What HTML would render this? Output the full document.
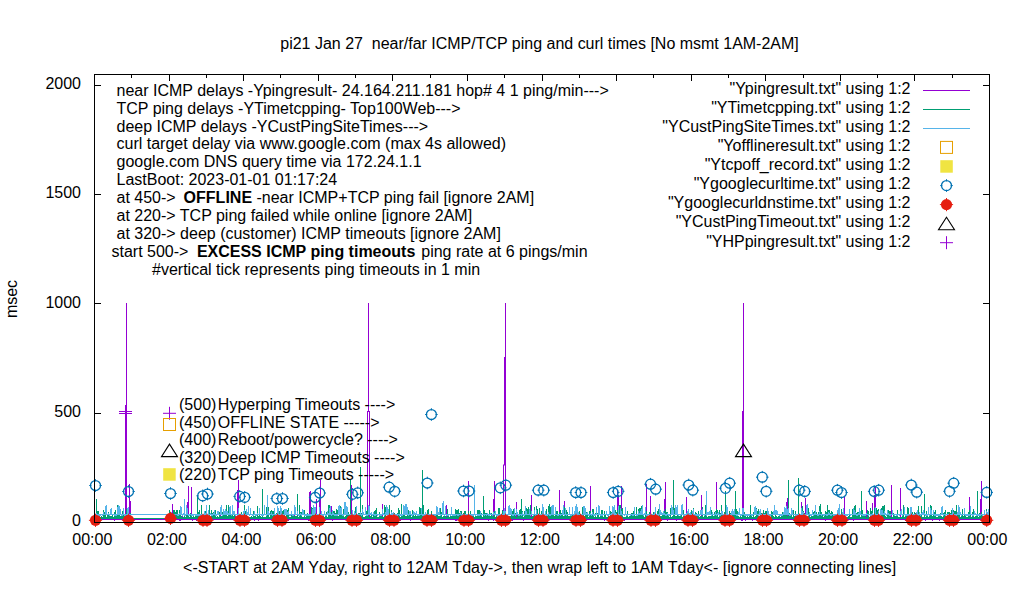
<!DOCTYPE html><html><head><meta charset="utf-8"><style>
html,body{margin:0;padding:0;background:#fff;overflow:hidden}svg{display:block}
text{font-family:"Liberation Sans",Arial,sans-serif;font-size:16px;fill:#000}
.b{font-weight:bold}
</style></head><body>
<svg width="1020" height="600" viewBox="0 0 1020 600">
<rect width="1020" height="600" fill="#fff"/>
<g stroke="#000" stroke-width="1" fill="none">
<path d="M95,413.5h6M989,413.5h-6"/>
<path d="M95,303.5h6M989,303.5h-6"/>
<path d="M95,194.5h6M989,194.5h-6"/>
<path d="M95,85.5h6M989,85.5h-6"/>
<path d="M94.5,522v-6M94.5,75v6"/>
<path d="M131.5,522v-3M131.5,75v3"/>
<path d="M169.5,522v-6M169.5,75v6"/>
<path d="M206.5,522v-3M206.5,75v3"/>
<path d="M243.5,522v-6M243.5,75v6"/>
<path d="M280.5,522v-3M280.5,75v3"/>
<path d="M318.5,522v-6M318.5,75v6"/>
<path d="M355.5,522v-3M355.5,75v3"/>
<path d="M392.5,522v-6M392.5,75v6"/>
<path d="M430.5,522v-3M430.5,75v3"/>
<path d="M467.5,522v-6M467.5,75v6"/>
<path d="M504.5,522v-3M504.5,75v3"/>
<path d="M542.5,522v-6M542.5,75v6"/>
<path d="M579.5,522v-3M579.5,75v3"/>
<path d="M616.5,522v-6M616.5,75v6"/>
<path d="M653.5,522v-3M653.5,75v3"/>
<path d="M691.5,522v-6M691.5,75v6"/>
<path d="M728.5,522v-3M728.5,75v3"/>
<path d="M765.5,522v-6M765.5,75v6"/>
<path d="M803.5,522v-3M803.5,75v3"/>
<path d="M840.5,522v-6M840.5,75v6"/>
<path d="M877.5,522v-3M877.5,75v3"/>
<path d="M914.5,522v-6M914.5,75v6"/>
<path d="M952.5,522v-3M952.5,75v3"/>
<path d="M989.5,522v-6M989.5,75v6"/>
</g>
<line x1="94.5" y1="519.5" x2="989.5" y2="519.5" stroke="#9400d3" stroke-width="1"/>
<path d="M95.5,519V520M96.5,519V520M97.5,519V520M98.5,519V520M99.5,519V520M100.5,519V520M101.5,519V520M102.5,519V520M103.5,519V520M104.5,519V520M105.5,519V520M106.5,519V520M107.5,519V520M108.5,519V520M109.5,519V520M110.5,519V520M111.5,519V520M112.5,519V520M113.5,519V520M114.5,519V521M115.5,519V520M116.5,519V520M117.5,519V520M118.5,519V520M119.5,519V520M120.5,519V520M121.5,519V520M122.5,519V520M123.5,519V521M124.5,519V520M125.5,519V520M126.5,519V520M127.5,519V520M128.5,519V520M129.5,519V520M130.5,519V520M169.5,519V520M170.5,519V520M171.5,516V520M172.5,519V520M173.5,519V520M174.5,519V520M175.5,519V520M176.5,519V520M177.5,519V520M178.5,519V520M179.5,519V521M180.5,519V521M181.5,519V520M182.5,515V520M183.5,519V520M184.5,519V520M185.5,519V520M186.5,519V520M187.5,519V520M188.5,519V520M189.5,519V520M190.5,519V520M191.5,519V520M192.5,519V521M193.5,519V520M194.5,519V520M195.5,519V520M196.5,519V521M197.5,519V520M198.5,515V520M199.5,519V520M200.5,519V520M201.5,519V520M202.5,519V520M203.5,519V520M204.5,519V520M205.5,519V520M206.5,519V520M207.5,519V520M208.5,519V520M209.5,519V520M210.5,519V520M211.5,519V520M212.5,519V520M213.5,519V520M214.5,519V520M215.5,519V520M216.5,519V520M217.5,519V520M218.5,519V520M219.5,519V520M220.5,519V520M221.5,519V520M222.5,519V520M223.5,519V520M224.5,519V520M225.5,519V520M226.5,519V520M227.5,519V520M228.5,519V520M229.5,519V520M230.5,519V520M231.5,519V520M232.5,519V520M233.5,519V520M234.5,519V520M235.5,514V520M236.5,519V520M237.5,519V520M238.5,519V520M239.5,519V520M240.5,519V520M241.5,519V520M242.5,519V520M243.5,519V521M244.5,519V520M245.5,519V520M246.5,519V520M247.5,519V520M248.5,519V520M249.5,517V520M250.5,519V520M251.5,519V520M252.5,519V520M253.5,519V520M254.5,519V521M255.5,517V520M256.5,519V520M257.5,519V520M258.5,519V521M259.5,519V520M260.5,519V520M261.5,519V520M262.5,519V520M263.5,519V520M264.5,519V520M265.5,519V520M266.5,518V520M267.5,519V520M268.5,519V520M269.5,519V520M270.5,519V520M271.5,519V520M272.5,519V521M273.5,519V520M274.5,519V520M275.5,519V520M276.5,519V520M277.5,519V520M278.5,519V520M279.5,519V520M280.5,519V520M281.5,519V520M282.5,519V520M283.5,519V520M284.5,519V520M285.5,519V520M286.5,519V520M287.5,518V520M288.5,519V521M289.5,519V520M290.5,519V520M291.5,519V520M292.5,519V520M293.5,519V520M294.5,515V520M295.5,519V520M296.5,519V520M297.5,519V520M298.5,519V520M299.5,519V520M300.5,519V520M301.5,518V520M302.5,519V520M303.5,519V520M304.5,519V520M305.5,519V520M306.5,519V520M307.5,519V520M308.5,519V521M309.5,519V520M310.5,519V520M311.5,519V520M312.5,519V520M313.5,519V520M314.5,519V520M315.5,519V521M316.5,519V520M317.5,519V520M318.5,519V520M319.5,519V520M320.5,519V520M321.5,519V520M322.5,519V520M323.5,519V520M324.5,519V520M325.5,519V520M326.5,519V520M327.5,519V520M328.5,519V520M329.5,519V520M330.5,519V520M331.5,519V520M332.5,519V521M333.5,519V520M334.5,519V520M335.5,519V520M336.5,509V520M337.5,519V520M338.5,519V520M339.5,519V520M340.5,519V520M341.5,519V520M342.5,519V520M343.5,519V520M344.5,519V520M345.5,519V520M346.5,519V520M347.5,519V520M348.5,519V520M349.5,519V520M350.5,519V521M351.5,519V520M352.5,519V520M353.5,518V520M354.5,519V520M355.5,519V520M356.5,519V520M357.5,519V520M358.5,519V520M359.5,519V520M360.5,519V520M361.5,519V520M362.5,519V520M363.5,519V520M364.5,519V520M365.5,519V520M366.5,519V520M367.5,519V520M368.5,519V520M369.5,519V520M370.5,519V520M371.5,519V520M372.5,519V520M373.5,519V520M374.5,519V520M375.5,519V520M376.5,519V520M377.5,519V520M378.5,519V520M379.5,519V520M380.5,519V520M381.5,519V520M382.5,504V520M383.5,519V520M384.5,519V520M385.5,519V520M386.5,519V520M387.5,519V520M388.5,519V520M389.5,519V520M390.5,519V520M391.5,518V520M392.5,519V520M393.5,519V520M394.5,519V520M395.5,519V520M396.5,519V520M397.5,519V520M398.5,519V520M399.5,519V520M400.5,519V521M401.5,519V520M402.5,519V520M403.5,519V520M404.5,519V520M405.5,519V520M406.5,519V520M407.5,519V520M408.5,519V520M409.5,519V520M410.5,519V521M411.5,519V520M412.5,519V520M413.5,519V520M414.5,519V520M415.5,519V520M416.5,519V520M417.5,519V520M418.5,519V520M419.5,519V520M420.5,519V520M421.5,519V520M422.5,519V520M423.5,519V520M424.5,519V520M425.5,519V520M426.5,517V520M427.5,519V520M428.5,519V521M429.5,519V520M430.5,519V520M431.5,519V520M432.5,519V520M433.5,519V520M434.5,519V520M435.5,519V520M436.5,519V520M437.5,519V520M438.5,519V520M439.5,519V520M440.5,519V520M441.5,519V520M442.5,519V520M443.5,519V520M444.5,517V520M445.5,519V520M446.5,519V520M447.5,519V520M448.5,519V520M449.5,519V520M450.5,519V520M451.5,519V520M452.5,519V520M453.5,519V520M454.5,519V520M455.5,519V521M456.5,519V521M457.5,517V520M458.5,519V520M459.5,519V520M460.5,519V520M461.5,519V520M462.5,519V520M463.5,519V520M464.5,519V520M465.5,519V520M466.5,519V520M467.5,519V520M468.5,519V520M469.5,519V520M470.5,519V520M471.5,519V520M472.5,519V520M473.5,519V520M474.5,519V520M475.5,519V520M476.5,519V520M477.5,519V520M478.5,519V520M479.5,519V520M480.5,519V520M481.5,519V520M482.5,519V520M483.5,519V520M484.5,519V520M485.5,519V520M486.5,519V520M487.5,519V520M488.5,519V521M489.5,519V520M490.5,519V520M491.5,519V520M492.5,519V520M493.5,519V521M494.5,519V520M495.5,519V520M496.5,519V520M497.5,519V520M498.5,519V520M499.5,519V520M500.5,519V520M501.5,519V520M502.5,517V520M503.5,519V520M504.5,519V520M505.5,519V520M506.5,519V520M507.5,519V521M508.5,519V520M509.5,519V520M510.5,519V520M511.5,519V520M512.5,519V521M513.5,519V520M514.5,519V520M515.5,519V520M516.5,502V520M517.5,519V520M518.5,519V520M519.5,519V520M520.5,519V520M521.5,519V520M522.5,519V520M523.5,519V521M524.5,519V520M525.5,519V520M526.5,519V520M527.5,519V520M528.5,519V520M529.5,519V520M530.5,519V520M531.5,519V520M532.5,519V520M533.5,519V520M534.5,519V520M535.5,519V520M536.5,519V520M537.5,519V520M538.5,519V520M539.5,519V520M540.5,519V520M541.5,519V520M542.5,519V520M543.5,519V520M544.5,519V521M545.5,519V520M546.5,519V520M547.5,519V520M548.5,519V520M549.5,519V520M550.5,519V520M551.5,519V520M552.5,519V520M553.5,519V520M554.5,519V520M555.5,519V520M556.5,519V520M557.5,519V520M558.5,519V520M559.5,519V520M560.5,519V520M561.5,519V520M562.5,519V520M563.5,519V520M564.5,519V520M565.5,519V520M566.5,519V520M567.5,519V520M568.5,519V520M569.5,519V520M570.5,519V520M571.5,519V520M572.5,519V520M573.5,519V520M574.5,519V520M575.5,515V520M576.5,519V520M577.5,519V520M578.5,519V520M579.5,519V520M580.5,519V520M581.5,519V520M582.5,518V520M583.5,519V520M584.5,519V520M585.5,519V520M586.5,519V520M587.5,519V520M588.5,519V520M589.5,519V520M590.5,519V520M591.5,519V520M592.5,518V520M593.5,519V520M594.5,519V520M595.5,519V520M596.5,519V520M597.5,519V520M598.5,519V520M599.5,519V520M600.5,519V520M601.5,519V520M602.5,519V520M603.5,519V520M604.5,519V521M605.5,519V520M606.5,517V520M607.5,519V520M608.5,519V520M609.5,519V521M610.5,519V521M611.5,519V520M612.5,519V520M613.5,519V520M614.5,519V520M615.5,519V521M616.5,519V520M617.5,519V521M618.5,519V520M619.5,519V520M620.5,519V521M621.5,519V520M622.5,519V520M623.5,519V520M624.5,519V521M625.5,519V520M626.5,519V520M627.5,519V520M628.5,519V520M629.5,519V520M630.5,519V520M631.5,519V520M632.5,519V520M633.5,519V520M634.5,519V520M635.5,519V520M636.5,519V520M637.5,519V520M638.5,519V520M639.5,519V520M640.5,519V520M641.5,519V520M642.5,519V520M643.5,519V520M644.5,519V520M645.5,519V520M646.5,519V520M647.5,519V520M648.5,519V520M649.5,519V520M650.5,519V520M651.5,519V520M652.5,519V520M653.5,519V520M654.5,519V520M655.5,519V520M656.5,519V520M657.5,519V520M658.5,519V520M659.5,519V520M660.5,516V520M661.5,519V521M662.5,519V520M663.5,519V520M664.5,519V520M665.5,519V520M666.5,519V520M667.5,519V521M668.5,519V520M669.5,519V520M670.5,519V520M671.5,519V520M672.5,519V520M673.5,519V520M674.5,519V520M675.5,519V520M676.5,519V521M677.5,519V520M678.5,519V520M679.5,519V520M680.5,516V520M681.5,519V520M682.5,519V520M683.5,519V520M684.5,519V520M685.5,519V520M686.5,519V520M687.5,519V520M688.5,510V520M689.5,519V520M690.5,519V520M691.5,519V520M692.5,519V521M693.5,519V520M694.5,519V520M695.5,519V520M696.5,519V520M697.5,519V520M698.5,519V520M699.5,519V520M700.5,519V520M701.5,519V520M702.5,519V520M703.5,519V520M704.5,519V520M705.5,519V520M706.5,519V520M707.5,519V520M708.5,519V520M709.5,519V520M710.5,519V520M711.5,519V520M712.5,519V520M713.5,519V520M714.5,519V520M715.5,519V520M716.5,519V520M717.5,519V520M718.5,519V520M719.5,519V520M720.5,519V520M721.5,519V520M722.5,519V520M723.5,519V520M724.5,519V520M725.5,519V520M726.5,519V520M727.5,519V520M728.5,519V520M729.5,519V520M730.5,519V520M731.5,519V520M732.5,519V520M733.5,519V520M734.5,519V520M735.5,519V520M736.5,519V520M737.5,519V520M738.5,519V520M739.5,519V520M740.5,519V520M741.5,519V521M742.5,519V521M743.5,517V520M744.5,519V520M745.5,519V521M746.5,519V520M747.5,519V520M748.5,519V520M749.5,519V520M750.5,519V520M751.5,519V520M752.5,519V521M753.5,519V520M754.5,519V520M755.5,519V520M756.5,519V520M757.5,519V520M758.5,519V520M759.5,519V520M760.5,519V520M761.5,519V520M762.5,519V520M763.5,519V521M764.5,519V521M765.5,519V520M766.5,519V520M767.5,519V520M768.5,519V520M769.5,519V520M770.5,519V520M771.5,519V520M772.5,519V520M773.5,519V520M774.5,517V520M775.5,519V520M776.5,519V520M777.5,519V520M778.5,519V520M779.5,519V520M780.5,519V520M781.5,519V520M782.5,519V520M783.5,519V520M784.5,519V520M785.5,519V520M786.5,502V520M787.5,519V520M788.5,519V520M789.5,519V520M790.5,519V520M791.5,519V520M792.5,519V520M793.5,519V520M794.5,519V520M795.5,519V520M796.5,519V520M797.5,519V520M798.5,519V521M799.5,519V520M800.5,519V520M801.5,519V520M802.5,516V520M803.5,519V520M804.5,519V520M805.5,519V520M806.5,519V520M807.5,519V521M808.5,519V520M809.5,519V520M810.5,519V520M811.5,519V520M812.5,519V520M813.5,519V520M814.5,519V520M815.5,519V520M816.5,519V520M817.5,519V520M818.5,519V520M819.5,519V520M820.5,519V520M821.5,519V520M822.5,519V520M823.5,519V520M824.5,519V520M825.5,519V521M826.5,519V520M827.5,519V520M828.5,519V520M829.5,519V520M830.5,519V520M831.5,519V520M832.5,519V520M833.5,519V520M834.5,519V520M835.5,519V520M836.5,519V520M837.5,519V520M838.5,519V520M839.5,519V520M840.5,519V520M841.5,519V520M842.5,519V520M843.5,519V520M844.5,519V521M845.5,519V520M846.5,519V520M847.5,519V520M848.5,519V520M849.5,519V520M850.5,519V520M851.5,519V520M852.5,519V520M853.5,519V521M854.5,519V520M855.5,519V520M856.5,519V520M857.5,519V520M858.5,519V520M859.5,519V520M860.5,519V520M861.5,519V520M862.5,519V520M863.5,519V520M864.5,519V520M865.5,519V520M866.5,519V520M867.5,519V520M868.5,519V520M869.5,519V520M870.5,519V520M871.5,519V520M872.5,519V520M873.5,516V520M874.5,519V520M875.5,519V520M876.5,519V520M877.5,519V520M878.5,519V520M879.5,519V520M880.5,519V520M881.5,517V520M882.5,516V520M883.5,515V520M884.5,519V520M885.5,519V520M886.5,519V520M887.5,519V520M888.5,519V520M889.5,519V520M890.5,519V520M891.5,519V520M892.5,519V520M893.5,519V520M894.5,519V520M895.5,519V520M896.5,519V520M897.5,519V520M898.5,519V520M899.5,519V520M900.5,519V520M901.5,519V520M902.5,519V520M903.5,519V520M904.5,519V520M905.5,519V521M906.5,519V521M907.5,519V520M908.5,519V520M909.5,519V520M910.5,519V520M911.5,519V520M912.5,519V520M913.5,519V520M914.5,519V520M915.5,519V520M916.5,519V520M917.5,519V520M918.5,519V520M919.5,519V520M920.5,519V520M921.5,519V520M922.5,519V520M923.5,519V520M924.5,519V520M925.5,519V521M926.5,519V520M927.5,519V520M928.5,519V520M929.5,519V520M930.5,519V520M931.5,519V520M932.5,519V521M933.5,519V520M934.5,519V520M935.5,516V520M936.5,519V520M937.5,519V520M938.5,519V520M939.5,519V521M940.5,515V520M941.5,519V520M942.5,519V520M943.5,519V520M944.5,519V520M945.5,519V520M946.5,519V520M947.5,519V520M948.5,519V520M949.5,519V520M950.5,519V520M951.5,519V520M952.5,519V520M953.5,519V521M954.5,519V520M955.5,519V520M956.5,519V520M957.5,519V520M958.5,519V520M959.5,519V520M960.5,519V520M961.5,519V520M962.5,519V520M963.5,519V520M964.5,519V520M965.5,519V520M966.5,519V520M967.5,519V520M968.5,519V520M969.5,519V520M970.5,519V520M971.5,519V520M972.5,519V520M973.5,519V520M974.5,519V520M975.5,519V520M976.5,519V520M977.5,519V520M978.5,519V520M979.5,519V520M980.5,519V520M981.5,519V520M982.5,519V520M983.5,519V521M984.5,519V520M985.5,519V520M986.5,518V520M987.5,519V520M988.5,519V520" fill="none" stroke="#9400d3" stroke-width="1"/>
<path d="M505.5,303V519M504.5,357V465M503.5,465V519M503,465H505" stroke="#9400d3" stroke-width="1" fill="none"/>
<line x1="126.5" y1="303.0" x2="126.5" y2="519" stroke="#9400d3" stroke-width="1"/>
<line x1="126.0" y1="405.0" x2="126.0" y2="519" stroke="#9400d3" stroke-width="2"/>
<line x1="743.5" y1="303.0" x2="743.5" y2="519" stroke="#9400d3" stroke-width="1"/>
<line x1="743.0" y1="411.0" x2="743.0" y2="519" stroke="#9400d3" stroke-width="2"/>
<path d="M368.5,303V412M367.5,411.5V519M369.5,411.5V519M367,411.5H370" stroke="#9400d3" stroke-width="1" fill="none"/>
<path d="M96.5,508V519M129.5,484V519M130.5,501V519M172.5,504V519M187.5,502V519M188.5,486V519M191.5,487V519M220.5,507V519M238.5,480V519M237.5,490V519M309.5,492V519M310.5,491V519M316.5,499V519M320.5,480V519M319.5,500V519M331.5,506V519M351.5,485V519M446.5,505V519M468.5,481V519M494.5,481V519M493.5,499V519M531.5,495V519M530.5,507V519M559.5,490V519M564.5,501V519M590.5,486V519M617.5,490V519M618.5,495V519M621.5,486V519M646.5,484V519M650.5,496V519M665.5,482V519M664.5,499V519M686.5,497V519M701.5,495V519M716.5,482V519M787.5,498V519M801.5,502V519M805.5,498V519M844.5,497V519M866.5,501V519M872.5,503V519M875.5,487V519M874.5,495V519M891.5,485V519M900.5,488V519M969.5,497V519M980.5,499V519M981.5,481V519" stroke="#9400d3" stroke-width="1"/>
<line x1="94.5" y1="518.5" x2="989.5" y2="518.5" stroke="#009e73" stroke-width="1"/>
<path d="M95.5,516V518M96.5,499V518M97.5,511V518M98.5,511V518M99.5,514V518M100.5,517V518M101.5,516V518M102.5,517V518M103.5,510V518M104.5,512V518M105.5,511V518M106.5,517V518M107.5,514V518M108.5,512V518M109.5,516V518M110.5,516V518M111.5,516V518M112.5,514V518M113.5,517V518M114.5,512V518M115.5,510V518M116.5,514V518M117.5,505V518M118.5,509V518M119.5,510V518M120.5,516V518M121.5,514V518M122.5,511V518M123.5,510V518M124.5,516V518M125.5,516V518M126.5,509V518M127.5,510V518M128.5,512V518M129.5,516V518M130.5,513V518M169.5,510V518M170.5,513V518M171.5,513V518M172.5,516V518M173.5,510V518M174.5,510V518M175.5,512V518M176.5,510V518M177.5,510V518M178.5,516V518M179.5,510V518M180.5,512V518M181.5,516V518M182.5,517V518M183.5,517V518M184.5,510V518M185.5,517V518M186.5,513V518M187.5,513V518M188.5,514V518M189.5,517V518M190.5,513V518M191.5,516V518M192.5,517V518M193.5,516V518M194.5,517V518M195.5,516V518M196.5,514V518M197.5,512V518M198.5,512V518M199.5,510V518M200.5,517V518M201.5,505V518M202.5,516V518M203.5,516V518M204.5,516V518M205.5,511V518M206.5,516V518M207.5,514V518M208.5,516V518M209.5,505V518M210.5,517V518M211.5,510V518M212.5,513V518M213.5,512V518M214.5,515V518M215.5,510V518M216.5,517V518M217.5,516V518M218.5,517V518M219.5,512V518M220.5,516V518M221.5,516V518M222.5,512V518M223.5,514V518M224.5,512V518M225.5,513V518M226.5,505V518M227.5,516V518M228.5,505V518M229.5,512V518M230.5,506V518M231.5,516V518M232.5,512V518M233.5,516V518M234.5,514V518M235.5,517V518M236.5,517V518M237.5,516V518M238.5,516V518M239.5,514V518M240.5,517V518M241.5,512V518M242.5,517V518M243.5,517V518M244.5,505V518M245.5,511V518M246.5,514V518M247.5,517V518M248.5,517V518M249.5,517V518M250.5,517V518M251.5,516V518M252.5,517V518M253.5,511V518M254.5,516V518M255.5,514V518M256.5,517V518M257.5,506V518M258.5,516V518M259.5,514V518M260.5,516V518M261.5,517V518M262.5,517V518M263.5,517V518M264.5,517V518M265.5,517V518M266.5,507V518M267.5,509V518M268.5,507V518M269.5,517V518M270.5,511V518M271.5,510V518M272.5,511V518M273.5,511V518M274.5,511V518M275.5,517V518M276.5,513V518M277.5,516V518M278.5,511V518M279.5,511V518M280.5,510V518M281.5,513V518M282.5,511V518M283.5,510V518M284.5,514V518M285.5,517V518M286.5,510V518M287.5,510V518M288.5,508V518M289.5,517V518M290.5,517V518M291.5,512V518M292.5,514V518M293.5,516V518M294.5,516V518M295.5,516V518M296.5,516V518M297.5,507V518M298.5,517V518M299.5,505V518M300.5,512V518M301.5,512V518M302.5,517V518M303.5,517V518M304.5,510V518M305.5,517V518M306.5,514V518M307.5,513V518M308.5,515V518M309.5,516V518M310.5,514V518M311.5,507V518M312.5,508V518M313.5,510V518M314.5,508V518M315.5,516V518M316.5,517V518M317.5,514V518M318.5,517V518M319.5,517V518M320.5,517V518M321.5,517V518M322.5,516V518M323.5,514V518M324.5,517V518M325.5,516V518M326.5,512V518M327.5,517V518M328.5,505V518M329.5,505V518M330.5,510V518M331.5,512V518M332.5,513V518M333.5,511V518M334.5,511V518M335.5,513V518M336.5,509V518M337.5,510V518M338.5,516V518M339.5,506V518M340.5,506V518M341.5,514V518M342.5,516V518M343.5,509V518M344.5,517V518M345.5,516V518M346.5,511V518M347.5,511V518M348.5,512V518M349.5,515V518M350.5,511V518M351.5,516V518M352.5,516V518M353.5,517V518M354.5,516V518M355.5,507V518M356.5,506V518M357.5,516V518M358.5,513V518M359.5,513V518M360.5,512V518M361.5,513V518M362.5,505V518M363.5,517V518M364.5,517V518M365.5,516V518M366.5,511V518M367.5,510V518M368.5,509V518M369.5,517V518M370.5,516V518M371.5,513V518M372.5,517V518M373.5,514V518M374.5,511V518M375.5,510V518M376.5,508V518M377.5,517V518M378.5,517V518M379.5,512V518M380.5,516V518M381.5,516V518M382.5,516V518M383.5,517V518M384.5,505V518M385.5,507V518M386.5,517V518M387.5,517V518M388.5,517V518M389.5,508V518M390.5,514V518M391.5,510V518M392.5,517V518M393.5,516V518M394.5,513V518M395.5,517V518M396.5,516V518M397.5,513V518M398.5,508V518M399.5,510V518M400.5,517V518M401.5,504V518M402.5,516V518M403.5,512V518M404.5,510V518M405.5,516V518M406.5,516V518M407.5,510V518M408.5,510V518M409.5,513V518M410.5,515V518M411.5,517V518M412.5,510V518M413.5,513V518M414.5,516V518M415.5,513V518M416.5,516V518M417.5,516V518M418.5,516V518M419.5,507V518M420.5,508V518M421.5,514V518M422.5,517V518M423.5,505V518M424.5,516V518M425.5,516V518M426.5,517V518M427.5,510V518M428.5,509V518M429.5,516V518M430.5,516V518M431.5,511V518M432.5,514V518M433.5,514V518M434.5,516V518M435.5,516V518M436.5,511V518M437.5,512V518M438.5,516V518M439.5,516V518M440.5,508V518M441.5,512V518M442.5,517V518M443.5,516V518M444.5,516V518M445.5,516V518M446.5,517V518M447.5,509V518M448.5,516V518M449.5,517V518M450.5,516V518M451.5,516V518M452.5,516V518M453.5,516V518M454.5,516V518M455.5,509V518M456.5,510V518M457.5,510V518M458.5,509V518M459.5,513V518M460.5,511V518M461.5,511V518M462.5,516V518M463.5,513V518M464.5,511V518M465.5,511V518M466.5,516V518M467.5,514V518M468.5,511V518M469.5,517V518M470.5,511V518M471.5,517V518M472.5,516V518M473.5,516V518M474.5,517V518M475.5,514V518M476.5,516V518M477.5,510V518M478.5,510V518M479.5,510V518M480.5,512V518M481.5,513V518M482.5,517V518M483.5,516V518M484.5,510V518M485.5,513V518M486.5,513V518M487.5,515V518M488.5,516V518M489.5,510V518M490.5,516V518M491.5,513V518M492.5,516V518M493.5,516V518M494.5,511V518M495.5,517V518M496.5,516V518M497.5,517V518M498.5,508V518M499.5,508V518M500.5,517V518M501.5,516V518M502.5,510V518M503.5,517V518M504.5,517V518M505.5,517V518M506.5,517V518M507.5,517V518M508.5,517V518M509.5,516V518M510.5,516V518M511.5,510V518M512.5,511V518M513.5,509V518M514.5,510V518M515.5,513V518M516.5,517V518M517.5,514V518M518.5,516V518M519.5,510V518M520.5,509V518M521.5,499V518M522.5,511V518M523.5,517V518M524.5,511V518M525.5,514V518M526.5,508V518M527.5,509V518M528.5,507V518M529.5,510V518M530.5,505V518M531.5,517V518M532.5,516V518M533.5,516V518M534.5,507V518M535.5,517V518M536.5,506V518M537.5,509V518M538.5,516V518M539.5,508V518M540.5,516V518M541.5,511V518M542.5,517V518M543.5,517V518M544.5,517V518M545.5,517V518M546.5,509V518M547.5,516V518M548.5,506V518M549.5,504V518M550.5,507V518M551.5,506V518M552.5,508V518M553.5,511V518M554.5,516V518M555.5,510V518M556.5,511V518M557.5,511V518M558.5,514V518M559.5,512V518M560.5,510V518M561.5,513V518M562.5,512V518M563.5,516V518M564.5,507V518M565.5,508V518M566.5,510V518M567.5,512V518M568.5,516V518M569.5,516V518M570.5,516V518M571.5,516V518M572.5,514V518M573.5,516V518M574.5,516V518M575.5,517V518M576.5,510V518M577.5,517V518M578.5,512V518M579.5,511V518M580.5,514V518M581.5,517V518M582.5,507V518M583.5,512V518M584.5,516V518M585.5,510V518M586.5,512V518M587.5,512V518M588.5,517V518M589.5,511V518M590.5,511V518M591.5,514V518M592.5,509V518M593.5,509V518M594.5,517V518M595.5,513V518M596.5,517V518M597.5,513V518M598.5,514V518M599.5,517V518M600.5,516V518M601.5,510V518M602.5,510V518M603.5,517V518M604.5,511V518M605.5,514V518M606.5,517V518M607.5,517V518M608.5,516V518M609.5,517V518M610.5,511V518M611.5,512V518M612.5,515V518M613.5,517V518M614.5,517V518M615.5,510V518M616.5,512V518M617.5,510V518M618.5,514V518M619.5,505V518M620.5,505V518M621.5,509V518M622.5,508V518M623.5,517V518M624.5,517V518M625.5,517V518M626.5,516V518M627.5,511V518M628.5,517V518M629.5,516V518M630.5,516V518M631.5,513V518M632.5,513V518M633.5,511V518M634.5,514V518M635.5,516V518M636.5,507V518M637.5,514V518M638.5,509V518M639.5,508V518M640.5,508V518M641.5,506V518M642.5,511V518M643.5,516V518M644.5,517V518M645.5,510V518M646.5,511V518M647.5,514V518M648.5,517V518M649.5,512V518M650.5,517V518M651.5,517V518M652.5,516V518M653.5,512V518M654.5,512V518M655.5,517V518M656.5,517V518M657.5,511V518M658.5,509V518M659.5,510V518M660.5,516V518M661.5,516V518M662.5,514V518M663.5,514V518M664.5,511V518M665.5,509V518M666.5,512V518M667.5,512V518M668.5,516V518M669.5,517V518M670.5,508V518M671.5,517V518M672.5,516V518M673.5,517V518M674.5,508V518M675.5,516V518M676.5,516V518M677.5,513V518M678.5,514V518M679.5,516V518M680.5,516V518M681.5,513V518M682.5,517V518M683.5,510V518M684.5,516V518M685.5,516V518M686.5,517V518M687.5,517V518M688.5,514V518M689.5,513V518M690.5,515V518M691.5,510V518M692.5,517V518M693.5,508V518M694.5,517V518M695.5,512V518M696.5,513V518M697.5,516V518M698.5,511V518M699.5,517V518M700.5,516V518M701.5,516V518M702.5,507V518M703.5,517V518M704.5,516V518M705.5,505V518M706.5,513V518M707.5,517V518M708.5,516V518M709.5,516V518M710.5,516V518M711.5,510V518M712.5,514V518M713.5,516V518M714.5,512V518M715.5,511V518M716.5,509V518M717.5,510V518M718.5,517V518M719.5,510V518M720.5,513V518M721.5,505V518M722.5,511V518M723.5,516V518M724.5,512V518M725.5,506V518M726.5,516V518M727.5,514V518M728.5,517V518M729.5,511V518M730.5,513V518M731.5,517V518M732.5,512V518M733.5,512V518M734.5,512V518M735.5,510V518M736.5,509V518M737.5,511V518M738.5,516V518M739.5,517V518M740.5,514V518M741.5,517V518M742.5,512V518M743.5,511V518M744.5,512V518M745.5,514V518M746.5,517V518M747.5,516V518M748.5,517V518M749.5,516V518M750.5,505V518M751.5,514V518M752.5,517V518M753.5,512V518M754.5,517V518M755.5,516V518M756.5,508V518M757.5,511V518M758.5,509V518M759.5,516V518M760.5,512V518M761.5,513V518M762.5,514V518M763.5,510V518M764.5,513V518M765.5,511V518M766.5,511V518M767.5,517V518M768.5,516V518M769.5,516V518M770.5,517V518M771.5,511V518M772.5,512V518M773.5,516V518M774.5,517V518M775.5,511V518M776.5,516V518M777.5,517V518M778.5,516V518M779.5,514V518M780.5,517V518M781.5,514V518M782.5,512V518M783.5,513V518M784.5,513V518M785.5,509V518M786.5,507V518M787.5,516V518M788.5,512V518M789.5,513V518M790.5,515V518M791.5,511V518M792.5,517V518M793.5,510V518M794.5,516V518M795.5,511V518M796.5,516V518M797.5,516V518M798.5,516V518M799.5,514V518M800.5,516V518M801.5,516V518M802.5,506V518M803.5,511V518M804.5,513V518M805.5,517V518M806.5,517V518M807.5,517V518M808.5,508V518M809.5,512V518M810.5,517V518M811.5,516V518M812.5,516V518M813.5,512V518M814.5,511V518M815.5,514V518M816.5,512V518M817.5,515V518M818.5,512V518M819.5,506V518M820.5,504V518M821.5,512V518M822.5,515V518M823.5,517V518M824.5,516V518M825.5,511V518M826.5,512V518M827.5,505V518M828.5,510V518M829.5,510V518M830.5,513V518M831.5,511V518M832.5,512V518M833.5,516V518M834.5,516V518M835.5,516V518M836.5,517V518M837.5,510V518M838.5,517V518M839.5,516V518M840.5,516V518M841.5,509V518M842.5,512V518M843.5,516V518M844.5,517V518M845.5,517V518M846.5,517V518M847.5,517V518M848.5,516V518M849.5,510V518M850.5,517V518M851.5,517V518M852.5,509V518M853.5,510V518M854.5,506V518M855.5,505V518M856.5,513V518M857.5,512V518M858.5,512V518M859.5,512V518M860.5,517V518M861.5,516V518M862.5,510V518M863.5,514V518M864.5,516V518M865.5,514V518M866.5,517V518M867.5,510V518M868.5,511V518M869.5,517V518M870.5,508V518M871.5,511V518M872.5,510V518M873.5,517V518M874.5,508V518M875.5,509V518M876.5,508V518M877.5,510V518M878.5,509V518M879.5,517V518M880.5,516V518M881.5,508V518M882.5,506V518M883.5,506V518M884.5,505V518M885.5,516V518M886.5,517V518M887.5,510V518M888.5,510V518M889.5,511V518M890.5,511V518M891.5,517V518M892.5,517V518M893.5,513V518M894.5,515V518M895.5,516V518M896.5,516V518M897.5,510V518M898.5,517V518M899.5,517V518M900.5,517V518M901.5,517V518M902.5,516V518M903.5,505V518M904.5,517V518M905.5,514V518M906.5,516V518M907.5,507V518M908.5,508V518M909.5,517V518M910.5,516V518M911.5,517V518M912.5,512V518M913.5,517V518M914.5,512V518M915.5,513V518M916.5,513V518M917.5,511V518M918.5,506V518M919.5,513V518M920.5,515V518M921.5,506V518M922.5,517V518M923.5,517V518M924.5,516V518M925.5,517V518M926.5,511V518M927.5,516V518M928.5,517V518M929.5,516V518M930.5,505V518M931.5,506V518M932.5,516V518M933.5,510V518M934.5,512V518M935.5,510V518M936.5,517V518M937.5,517V518M938.5,516V518M939.5,516V518M940.5,513V518M941.5,516V518M942.5,517V518M943.5,513V518M944.5,512V518M945.5,510V518M946.5,516V518M947.5,512V518M948.5,512V518M949.5,512V518M950.5,513V518M951.5,510V518M952.5,516V518M953.5,510V518M954.5,511V518M955.5,511V518M956.5,505V518M957.5,513V518M958.5,511V518M959.5,514V518M960.5,517V518M961.5,516V518M962.5,509V518M963.5,516V518M964.5,510V518M965.5,516V518M966.5,517V518M967.5,517V518M968.5,512V518M969.5,510V518M970.5,510V518M971.5,517V518M972.5,512V518M973.5,509V518M974.5,517V518M975.5,516V518M976.5,516V518M977.5,517V518M978.5,517V518M979.5,513V518M980.5,515V518M981.5,512V518M982.5,514V518M983.5,517V518M984.5,517V518M985.5,517V518M986.5,509V518M987.5,516V518M988.5,511V518" fill="none" stroke="#009e73" stroke-width="1"/>
<path d="M197.5,495V517M262.5,489V517M297.5,494V517M350.5,480V517M360.5,467V517M389.5,505V517M422.5,470V517M483.5,496V517M673.5,480V517M725.5,491V517M735.5,491V517M788.5,480V517M798.5,478V517M861.5,491V517M924.5,494V517M977.5,491V517" stroke="#009e73" stroke-width="1"/>
<line x1="94.5" y1="514.5" x2="989.5" y2="514.5" stroke="#56b4e9" stroke-width="1"/>
<path d="M95.5,514V515M96.5,513V515M97.5,514V516M98.5,514V516M99.5,514V516M100.5,514V516M101.5,514V515M102.5,514V516M103.5,512V515M104.5,514V515M105.5,506V515M106.5,505V515M107.5,514V515M108.5,513V515M109.5,514V516M110.5,509V515M111.5,508V515M112.5,514V515M113.5,514V515M114.5,514V516M115.5,514V516M116.5,514V516M117.5,507V515M118.5,505V515M119.5,506V515M120.5,509V515M121.5,514V516M122.5,514V516M123.5,508V515M124.5,514V516M125.5,514V516M126.5,514V515M127.5,508V515M128.5,507V515M129.5,514V516M130.5,514V516M169.5,514V516M170.5,514V516M171.5,512V515M172.5,514V516M173.5,514V516M174.5,514V516M175.5,514V515M176.5,514V515M177.5,514V516M178.5,514V516M179.5,513V515M180.5,506V515M181.5,507V515M182.5,514V516M183.5,513V515M184.5,514V516M185.5,514V516M186.5,505V515M187.5,508V515M188.5,514V516M189.5,514V516M190.5,514V515M191.5,514V516M192.5,514V516M193.5,514V516M194.5,514V515M195.5,514V516M196.5,514V516M197.5,514V516M198.5,514V516M199.5,514V516M200.5,514V516M201.5,514V516M202.5,514V516M203.5,514V515M204.5,511V515M205.5,513V515M206.5,505V515M207.5,514V516M208.5,510V515M209.5,514V515M210.5,513V515M211.5,514V516M212.5,514V516M213.5,513V515M214.5,510V515M215.5,514V516M216.5,514V516M217.5,511V515M218.5,511V515M219.5,514V515M220.5,507V515M221.5,505V515M222.5,514V516M223.5,509V515M224.5,511V515M225.5,509V515M226.5,511V515M227.5,511V515M228.5,513V515M229.5,507V515M230.5,506V515M231.5,514V516M232.5,505V515M233.5,511V515M234.5,511V515M235.5,514V516M236.5,514V515M237.5,514V516M238.5,508V515M239.5,514V516M240.5,514V516M241.5,514V516M242.5,514V516M243.5,511V515M244.5,510V515M245.5,514V516M246.5,509V515M247.5,512V515M248.5,506V515M249.5,514V516M250.5,508V515M251.5,514V515M252.5,514V516M253.5,514V516M254.5,511V515M255.5,514V516M256.5,514V516M257.5,513V515M258.5,514V515M259.5,508V515M260.5,514V515M261.5,514V516M262.5,514V516M263.5,514V516M264.5,505V515M265.5,514V515M266.5,514V516M267.5,508V515M268.5,511V515M269.5,513V515M270.5,514V515M271.5,512V515M272.5,514V516M273.5,514V515M274.5,508V515M275.5,514V516M276.5,514V516M277.5,506V515M278.5,508V515M279.5,514V515M280.5,506V515M281.5,508V515M282.5,514V516M283.5,514V516M284.5,509V515M285.5,509V515M286.5,509V515M287.5,512V515M288.5,511V515M289.5,514V516M290.5,514V516M291.5,511V515M292.5,514V516M293.5,514V516M294.5,505V515M295.5,507V515M296.5,514V515M297.5,511V515M298.5,514V516M299.5,514V516M300.5,513V515M301.5,514V516M302.5,509V515M303.5,510V515M304.5,514V516M305.5,514V516M306.5,514V516M307.5,514V516M308.5,514V516M309.5,514V516M310.5,514V516M311.5,514V516M312.5,509V515M313.5,505V515M314.5,507V515M315.5,507V515M316.5,514V516M317.5,514V515M318.5,514V516M319.5,507V515M320.5,514V516M321.5,511V515M322.5,514V516M323.5,514V516M324.5,511V515M325.5,514V516M326.5,514V516M327.5,511V515M328.5,513V515M329.5,508V515M330.5,506V515M331.5,514V516M332.5,510V515M333.5,513V515M334.5,514V516M335.5,514V516M336.5,514V516M337.5,514V516M338.5,506V515M339.5,505V515M340.5,508V515M341.5,507V515M342.5,514V516M343.5,514V516M344.5,502V515M345.5,502V515M346.5,506V515M347.5,507V515M348.5,514V515M349.5,514V515M350.5,514V516M351.5,514V516M352.5,510V515M353.5,514V516M354.5,511V515M355.5,513V515M356.5,506V515M357.5,514V516M358.5,514V515M359.5,514V515M360.5,512V515M361.5,514V516M362.5,509V515M363.5,512V515M364.5,514V515M365.5,507V515M366.5,514V516M367.5,514V516M368.5,505V515M369.5,506V515M370.5,513V515M371.5,512V515M372.5,514V516M373.5,512V515M374.5,514V516M375.5,514V516M376.5,514V515M377.5,514V516M378.5,514V515M379.5,514V516M380.5,514V516M381.5,514V516M382.5,509V515M383.5,513V515M384.5,514V516M385.5,512V515M386.5,505V515M387.5,507V515M388.5,509V515M389.5,514V516M390.5,514V516M391.5,512V515M392.5,513V515M393.5,512V515M394.5,514V515M395.5,514V515M396.5,514V516M397.5,514V516M398.5,514V515M399.5,514V516M400.5,514V516M401.5,514V516M402.5,514V516M403.5,505V515M404.5,506V515M405.5,504V515M406.5,504V515M407.5,507V515M408.5,514V516M409.5,511V515M410.5,511V515M411.5,514V516M412.5,514V516M413.5,511V515M414.5,512V515M415.5,513V515M416.5,511V515M417.5,514V516M418.5,514V516M419.5,514V516M420.5,514V515M421.5,508V515M422.5,514V516M423.5,514V516M424.5,514V516M425.5,512V515M426.5,514V515M427.5,514V516M428.5,514V516M429.5,514V516M430.5,514V516M431.5,514V516M432.5,514V516M433.5,514V515M434.5,514V516M435.5,514V516M436.5,506V515M437.5,507V515M438.5,512V515M439.5,508V515M440.5,514V516M441.5,514V515M442.5,503V515M443.5,501V515M444.5,514V516M445.5,506V515M446.5,514V516M447.5,514V516M448.5,514V516M449.5,514V515M450.5,514V516M451.5,507V515M452.5,514V516M453.5,514V516M454.5,514V516M455.5,514V516M456.5,514V515M457.5,514V516M458.5,514V516M459.5,514V515M460.5,512V515M461.5,514V516M462.5,514V515M463.5,514V516M464.5,514V516M465.5,514V516M466.5,514V516M467.5,514V515M468.5,514V516M469.5,514V516M470.5,514V516M471.5,514V516M472.5,514V516M473.5,514V516M474.5,514V515M475.5,514V516M476.5,514V515M477.5,514V516M478.5,514V516M479.5,514V516M480.5,511V515M481.5,514V516M482.5,514V515M483.5,514V515M484.5,514V516M485.5,514V515M486.5,514V516M487.5,513V515M488.5,514V516M489.5,514V516M490.5,513V515M491.5,514V515M492.5,514V516M493.5,512V515M494.5,513V515M495.5,511V515M496.5,514V516M497.5,514V516M498.5,514V516M499.5,514V516M500.5,514V516M501.5,514V516M502.5,514V516M503.5,511V515M504.5,508V515M505.5,511V515M506.5,514V515M507.5,514V516M508.5,506V515M509.5,505V515M510.5,508V515M511.5,509V515M512.5,514V516M513.5,514V516M514.5,508V515M515.5,514V516M516.5,509V515M517.5,512V515M518.5,514V516M519.5,514V516M520.5,514V515M521.5,514V516M522.5,512V515M523.5,514V516M524.5,514V516M525.5,506V515M526.5,511V515M527.5,514V515M528.5,514V515M529.5,509V515M530.5,514V516M531.5,511V515M532.5,514V515M533.5,514V516M534.5,510V515M535.5,514V516M536.5,510V515M537.5,514V515M538.5,514V516M539.5,514V516M540.5,514V516M541.5,514V516M542.5,504V515M543.5,507V515M544.5,514V516M545.5,511V515M546.5,514V516M547.5,514V516M548.5,512V515M549.5,514V516M550.5,514V516M551.5,506V515M552.5,505V515M553.5,505V515M554.5,514V515M555.5,507V515M556.5,514V515M557.5,514V516M558.5,514V516M559.5,514V515M560.5,514V516M561.5,514V515M562.5,510V515M563.5,505V515M564.5,514V516M565.5,508V515M566.5,514V516M567.5,514V515M568.5,514V515M569.5,507V515M570.5,514V516M571.5,514V516M572.5,507V515M573.5,514V516M574.5,511V515M575.5,506V515M576.5,504V515M577.5,507V515M578.5,512V515M579.5,514V516M580.5,514V516M581.5,514V515M582.5,514V516M583.5,506V515M584.5,506V515M585.5,508V515M586.5,513V515M587.5,512V515M588.5,514V516M589.5,514V516M590.5,513V515M591.5,514V516M592.5,512V515M593.5,514V516M594.5,514V516M595.5,514V516M596.5,507V515M597.5,514V515M598.5,505V515M599.5,506V515M600.5,514V516M601.5,514V516M602.5,514V516M603.5,514V515M604.5,514V515M605.5,514V515M606.5,511V515M607.5,514V516M608.5,514V516M609.5,506V515M610.5,514V515M611.5,513V515M612.5,506V515M613.5,507V515M614.5,505V515M615.5,513V515M616.5,514V516M617.5,514V516M618.5,506V515M619.5,514V516M620.5,508V515M621.5,511V515M622.5,514V516M623.5,514V515M624.5,514V516M625.5,507V515M626.5,514V516M627.5,514V516M628.5,514V515M629.5,514V515M630.5,514V516M631.5,514V515M632.5,514V516M633.5,514V516M634.5,507V515M635.5,514V515M636.5,514V516M637.5,514V516M638.5,511V515M639.5,513V515M640.5,511V515M641.5,509V515M642.5,505V515M643.5,514V516M644.5,513V515M645.5,507V515M646.5,514V516M647.5,514V516M648.5,514V515M649.5,514V516M650.5,514V516M651.5,514V516M652.5,514V516M653.5,514V515M654.5,512V515M655.5,507V515M656.5,514V515M657.5,514V516M658.5,514V516M659.5,504V515M660.5,510V515M661.5,512V515M662.5,513V515M663.5,511V515M664.5,513V515M665.5,514V516M666.5,514V516M667.5,513V515M668.5,514V516M669.5,514V516M670.5,514V515M671.5,505V515M672.5,507V515M673.5,510V515M674.5,514V515M675.5,505V515M676.5,507V515M677.5,505V515M678.5,514V516M679.5,514V515M680.5,514V516M681.5,505V515M682.5,504V515M683.5,514V516M684.5,514V516M685.5,514V515M686.5,513V515M687.5,511V515M688.5,509V515M689.5,513V515M690.5,512V515M691.5,514V516M692.5,511V515M693.5,509V515M694.5,514V516M695.5,514V516M696.5,514V516M697.5,514V516M698.5,514V516M699.5,514V516M700.5,510V515M701.5,510V515M702.5,509V515M703.5,514V515M704.5,514V516M705.5,514V515M706.5,514V516M707.5,512V515M708.5,512V515M709.5,511V515M710.5,507V515M711.5,514V516M712.5,512V515M713.5,514V515M714.5,514V516M715.5,512V515M716.5,514V516M717.5,513V515M718.5,512V515M719.5,514V516M720.5,514V516M721.5,511V515M722.5,511V515M723.5,514V516M724.5,514V516M725.5,514V515M726.5,505V515M727.5,507V515M728.5,514V516M729.5,514V516M730.5,514V516M731.5,511V515M732.5,509V515M733.5,511V515M734.5,509V515M735.5,514V515M736.5,514V516M737.5,514V516M738.5,512V515M739.5,508V515M740.5,514V516M741.5,514V516M742.5,508V515M743.5,508V515M744.5,514V516M745.5,514V516M746.5,514V516M747.5,514V516M748.5,514V516M749.5,514V516M750.5,514V515M751.5,514V516M752.5,514V516M753.5,514V515M754.5,507V515M755.5,506V515M756.5,509V515M757.5,514V515M758.5,514V516M759.5,511V515M760.5,509V515M761.5,514V516M762.5,513V515M763.5,514V515M764.5,514V516M765.5,514V516M766.5,514V516M767.5,508V515M768.5,511V515M769.5,514V516M770.5,514V516M771.5,514V515M772.5,514V515M773.5,511V515M774.5,505V515M775.5,510V515M776.5,510V515M777.5,511V515M778.5,514V515M779.5,514V516M780.5,514V516M781.5,514V516M782.5,514V516M783.5,512V515M784.5,507V515M785.5,508V515M786.5,506V515M787.5,509V515M788.5,508V515M789.5,514V516M790.5,514V516M791.5,508V515M792.5,510V515M793.5,514V515M794.5,514V515M795.5,514V516M796.5,514V516M797.5,514V516M798.5,514V516M799.5,514V515M800.5,514V516M801.5,508V515M802.5,511V515M803.5,512V515M804.5,514V516M805.5,514V516M806.5,505V515M807.5,504V515M808.5,514V516M809.5,512V515M810.5,514V516M811.5,514V516M812.5,510V515M813.5,514V516M814.5,513V515M815.5,505V515M816.5,514V515M817.5,514V516M818.5,514V516M819.5,511V515M820.5,514V515M821.5,514V516M822.5,514V515M823.5,514V516M824.5,514V516M825.5,514V515M826.5,514V516M827.5,514V516M828.5,512V515M829.5,513V515M830.5,514V516M831.5,514V516M832.5,514V515M833.5,514V516M834.5,514V516M835.5,514V516M836.5,514V516M837.5,510V515M838.5,508V515M839.5,504V515M840.5,514V516M841.5,514V515M842.5,512V515M843.5,508V515M844.5,514V515M845.5,514V516M846.5,514V516M847.5,514V516M848.5,514V515M849.5,509V515M850.5,514V516M851.5,514V515M852.5,514V515M853.5,508V515M854.5,510V515M855.5,512V515M856.5,514V516M857.5,514V516M858.5,513V515M859.5,508V515M860.5,511V515M861.5,514V515M862.5,514V516M863.5,514V516M864.5,514V516M865.5,514V516M866.5,513V515M867.5,514V515M868.5,514V516M869.5,514V515M870.5,514V516M871.5,514V516M872.5,513V515M873.5,514V516M874.5,514V515M875.5,507V515M876.5,514V516M877.5,514V516M878.5,511V515M879.5,514V516M880.5,509V515M881.5,510V515M882.5,510V515M883.5,513V515M884.5,511V515M885.5,513V515M886.5,514V516M887.5,510V515M888.5,513V515M889.5,514V516M890.5,514V516M891.5,514V515M892.5,510V515M893.5,514V515M894.5,514V516M895.5,514V515M896.5,514V516M897.5,514V516M898.5,514V515M899.5,514V516M900.5,511V515M901.5,509V515M902.5,514V516M903.5,514V515M904.5,507V515M905.5,514V516M906.5,514V516M907.5,514V516M908.5,514V516M909.5,514V516M910.5,507V515M911.5,507V515M912.5,514V516M913.5,514V516M914.5,514V516M915.5,514V515M916.5,512V515M917.5,510V515M918.5,514V516M919.5,512V515M920.5,514V516M921.5,513V515M922.5,512V515M923.5,510V515M924.5,513V515M925.5,514V516M926.5,514V516M927.5,514V516M928.5,507V515M929.5,514V516M930.5,508V515M931.5,510V515M932.5,514V515M933.5,510V515M934.5,514V516M935.5,514V516M936.5,514V516M937.5,514V516M938.5,514V516M939.5,514V516M940.5,514V516M941.5,507V515M942.5,506V515M943.5,514V516M944.5,514V515M945.5,514V516M946.5,514V515M947.5,514V515M948.5,514V516M949.5,514V516M950.5,514V516M951.5,514V516M952.5,508V515M953.5,512V515M954.5,514V516M955.5,514V516M956.5,514V516M957.5,512V515M958.5,505V515M959.5,507V515M960.5,512V515M961.5,514V516M962.5,514V515M963.5,514V515M964.5,508V515M965.5,514V516M966.5,514V516M967.5,514V516M968.5,514V516M969.5,514V516M970.5,506V515M971.5,514V515M972.5,514V516M973.5,514V516M974.5,511V515M975.5,513V515M976.5,514V516M977.5,514V516M978.5,514V516M979.5,514V516M980.5,514V516M981.5,514V515M982.5,514V516M983.5,514V515M984.5,510V515M985.5,514V516M986.5,511V515M987.5,512V515M988.5,509V515" fill="none" stroke="#56b4e9" stroke-width="1"/>
<path d="M184.5,499V514M267.5,495V514M474.5,485V514M706.5,491V514" stroke="#56b4e9" stroke-width="1"/>
<path d="M119.0,411.5h13.0M125.5,405.0v13.0" stroke="#9400d3" stroke-width="1" fill="none"/>
<path d="M119.0,413.5h13.0M125.5,407.0v13.0" stroke="#9400d3" stroke-width="1" fill="none"/>
<circle cx="95.5" cy="485.5" r="5.0" fill="none" stroke="#0072b2" stroke-width="1.25"/><path d="M89.2,485.5h2.2M99.6,485.5h2.2M95.5,479.2v2.2M95.5,489.6v2.2" stroke="#0072b2" stroke-width="1"/>
<circle cx="128.5" cy="491.5" r="5.0" fill="none" stroke="#0072b2" stroke-width="1.25"/><path d="M122.2,491.5h2.2M132.6,491.5h2.2M128.5,485.2v2.2M128.5,495.6v2.2" stroke="#0072b2" stroke-width="1"/>
<circle cx="170.5" cy="493.5" r="5.0" fill="none" stroke="#0072b2" stroke-width="1.25"/><path d="M164.2,493.5h2.2M174.6,493.5h2.2M170.5,487.2v2.2M170.5,497.6v2.2" stroke="#0072b2" stroke-width="1"/>
<circle cx="202.7" cy="495.8" r="5.0" fill="none" stroke="#0072b2" stroke-width="1.25"/><path d="M196.4,495.8h2.2M206.8,495.8h2.2M202.7,489.5v2.2M202.7,499.9v2.2" stroke="#0072b2" stroke-width="1"/>
<circle cx="207.5" cy="494.0" r="5.0" fill="none" stroke="#0072b2" stroke-width="1.25"/><path d="M201.2,494.0h2.2M211.6,494.0h2.2M207.5,487.7v2.2M207.5,498.1v2.2" stroke="#0072b2" stroke-width="1"/>
<circle cx="239.7" cy="496.4" r="5.0" fill="none" stroke="#0072b2" stroke-width="1.25"/><path d="M233.4,496.4h2.2M243.8,496.4h2.2M239.7,490.1v2.2M239.7,500.5v2.2" stroke="#0072b2" stroke-width="1"/>
<circle cx="244.7" cy="497.3" r="5.0" fill="none" stroke="#0072b2" stroke-width="1.25"/><path d="M238.4,497.3h2.2M248.8,497.3h2.2M244.7,491.0v2.2M244.7,501.4v2.2" stroke="#0072b2" stroke-width="1"/>
<circle cx="276.8" cy="498.5" r="5.0" fill="none" stroke="#0072b2" stroke-width="1.25"/><path d="M270.5,498.5h2.2M280.9,498.5h2.2M276.8,492.2v2.2M276.8,502.6v2.2" stroke="#0072b2" stroke-width="1"/>
<circle cx="282.5" cy="498.5" r="5.0" fill="none" stroke="#0072b2" stroke-width="1.25"/><path d="M276.2,498.5h2.2M286.6,498.5h2.2M282.5,492.2v2.2M282.5,502.6v2.2" stroke="#0072b2" stroke-width="1"/>
<circle cx="315.2" cy="497.4" r="5.0" fill="none" stroke="#0072b2" stroke-width="1.25"/><path d="M308.9,497.4h2.2M319.3,497.4h2.2M315.2,491.1v2.2M315.2,501.5v2.2" stroke="#0072b2" stroke-width="1"/>
<circle cx="319.7" cy="493.0" r="5.0" fill="none" stroke="#0072b2" stroke-width="1.25"/><path d="M313.4,493.0h2.2M323.8,493.0h2.2M319.7,486.7v2.2M319.7,497.1v2.2" stroke="#0072b2" stroke-width="1"/>
<circle cx="352.4" cy="494.3" r="5.0" fill="none" stroke="#0072b2" stroke-width="1.25"/><path d="M346.1,494.3h2.2M356.5,494.3h2.2M352.4,488.0v2.2M352.4,498.4v2.2" stroke="#0072b2" stroke-width="1"/>
<circle cx="357.7" cy="492.8" r="5.0" fill="none" stroke="#0072b2" stroke-width="1.25"/><path d="M351.4,492.8h2.2M361.8,492.8h2.2M357.7,486.5v2.2M357.7,496.9v2.2" stroke="#0072b2" stroke-width="1"/>
<circle cx="389.2" cy="487.2" r="5.0" fill="none" stroke="#0072b2" stroke-width="1.25"/><path d="M382.9,487.2h2.2M393.3,487.2h2.2M389.2,480.9v2.2M389.2,491.3v2.2" stroke="#0072b2" stroke-width="1"/>
<circle cx="394.7" cy="491.3" r="5.0" fill="none" stroke="#0072b2" stroke-width="1.25"/><path d="M388.4,491.3h2.2M398.8,491.3h2.2M394.7,485.0v2.2M394.7,495.4v2.2" stroke="#0072b2" stroke-width="1"/>
<circle cx="431.4" cy="414.5" r="5.0" fill="none" stroke="#0072b2" stroke-width="1.25"/><path d="M425.1,414.5h2.2M435.5,414.5h2.2M431.4,408.2v2.2M431.4,418.6v2.2" stroke="#0072b2" stroke-width="1"/>
<circle cx="427.3" cy="483.0" r="5.0" fill="none" stroke="#0072b2" stroke-width="1.25"/><path d="M421.0,483.0h2.2M431.4,483.0h2.2M427.3,476.7v2.2M427.3,487.1v2.2" stroke="#0072b2" stroke-width="1"/>
<circle cx="463.5" cy="491.0" r="5.0" fill="none" stroke="#0072b2" stroke-width="1.25"/><path d="M457.2,491.0h2.2M467.6,491.0h2.2M463.5,484.7v2.2M463.5,495.1v2.2" stroke="#0072b2" stroke-width="1"/>
<circle cx="469.0" cy="491.0" r="5.0" fill="none" stroke="#0072b2" stroke-width="1.25"/><path d="M462.7,491.0h2.2M473.1,491.0h2.2M469.0,484.7v2.2M469.0,495.1v2.2" stroke="#0072b2" stroke-width="1"/>
<circle cx="500.3" cy="487.8" r="5.0" fill="none" stroke="#0072b2" stroke-width="1.25"/><path d="M494.0,487.8h2.2M504.4,487.8h2.2M500.3,481.5v2.2M500.3,491.9v2.2" stroke="#0072b2" stroke-width="1"/>
<circle cx="505.8" cy="485.2" r="5.0" fill="none" stroke="#0072b2" stroke-width="1.25"/><path d="M499.5,485.2h2.2M509.9,485.2h2.2M505.8,478.9v2.2M505.8,489.3v2.2" stroke="#0072b2" stroke-width="1"/>
<circle cx="538.2" cy="490.2" r="5.0" fill="none" stroke="#0072b2" stroke-width="1.25"/><path d="M531.9,490.2h2.2M542.3,490.2h2.2M538.2,483.9v2.2M538.2,494.3v2.2" stroke="#0072b2" stroke-width="1"/>
<circle cx="543.8" cy="490.2" r="5.0" fill="none" stroke="#0072b2" stroke-width="1.25"/><path d="M537.5,490.2h2.2M547.9,490.2h2.2M543.8,483.9v2.2M543.8,494.3v2.2" stroke="#0072b2" stroke-width="1"/>
<circle cx="575.7" cy="492.5" r="5.0" fill="none" stroke="#0072b2" stroke-width="1.25"/><path d="M569.4,492.5h2.2M579.8,492.5h2.2M575.7,486.2v2.2M575.7,496.6v2.2" stroke="#0072b2" stroke-width="1"/>
<circle cx="581.0" cy="492.5" r="5.0" fill="none" stroke="#0072b2" stroke-width="1.25"/><path d="M574.7,492.5h2.2M585.1,492.5h2.2M581.0,486.2v2.2M581.0,496.6v2.2" stroke="#0072b2" stroke-width="1"/>
<circle cx="613.2" cy="492.5" r="5.0" fill="none" stroke="#0072b2" stroke-width="1.25"/><path d="M606.9,492.5h2.2M617.3,492.5h2.2M613.2,486.2v2.2M613.2,496.6v2.2" stroke="#0072b2" stroke-width="1"/>
<circle cx="618.2" cy="491.3" r="5.0" fill="none" stroke="#0072b2" stroke-width="1.25"/><path d="M611.9,491.3h2.2M622.3,491.3h2.2M618.2,485.0v2.2M618.2,495.4v2.2" stroke="#0072b2" stroke-width="1"/>
<circle cx="650.5" cy="484.2" r="5.0" fill="none" stroke="#0072b2" stroke-width="1.25"/><path d="M644.2,484.2h2.2M654.6,484.2h2.2M650.5,477.9v2.2M650.5,488.3v2.2" stroke="#0072b2" stroke-width="1"/>
<circle cx="655.7" cy="489.2" r="5.0" fill="none" stroke="#0072b2" stroke-width="1.25"/><path d="M649.4,489.2h2.2M659.8,489.2h2.2M655.7,482.9v2.2M655.7,493.3v2.2" stroke="#0072b2" stroke-width="1"/>
<circle cx="688.7" cy="485.0" r="5.0" fill="none" stroke="#0072b2" stroke-width="1.25"/><path d="M682.4,485.0h2.2M692.8,485.0h2.2M688.7,478.7v2.2M688.7,489.1v2.2" stroke="#0072b2" stroke-width="1"/>
<circle cx="692.8" cy="490.2" r="5.0" fill="none" stroke="#0072b2" stroke-width="1.25"/><path d="M686.5,490.2h2.2M696.9,490.2h2.2M692.8,483.9v2.2M692.8,494.3v2.2" stroke="#0072b2" stroke-width="1"/>
<circle cx="725.5" cy="488.3" r="5.0" fill="none" stroke="#0072b2" stroke-width="1.25"/><path d="M719.2,488.3h2.2M729.6,488.3h2.2M725.5,482.0v2.2M725.5,492.4v2.2" stroke="#0072b2" stroke-width="1"/>
<circle cx="729.7" cy="483.2" r="5.0" fill="none" stroke="#0072b2" stroke-width="1.25"/><path d="M723.4,483.2h2.2M733.8,483.2h2.2M729.7,476.9v2.2M729.7,487.3v2.2" stroke="#0072b2" stroke-width="1"/>
<circle cx="762.3" cy="477.2" r="5.0" fill="none" stroke="#0072b2" stroke-width="1.25"/><path d="M756.0,477.2h2.2M766.4,477.2h2.2M762.3,470.9v2.2M762.3,481.3v2.2" stroke="#0072b2" stroke-width="1"/>
<circle cx="766.2" cy="491.3" r="5.0" fill="none" stroke="#0072b2" stroke-width="1.25"/><path d="M759.9,491.3h2.2M770.3,491.3h2.2M766.2,485.0v2.2M766.2,495.4v2.2" stroke="#0072b2" stroke-width="1"/>
<circle cx="799.2" cy="490.2" r="5.0" fill="none" stroke="#0072b2" stroke-width="1.25"/><path d="M792.9,490.2h2.2M803.3,490.2h2.2M799.2,483.9v2.2M799.2,494.3v2.2" stroke="#0072b2" stroke-width="1"/>
<circle cx="804.7" cy="491.4" r="5.0" fill="none" stroke="#0072b2" stroke-width="1.25"/><path d="M798.4,491.4h2.2M808.8,491.4h2.2M804.7,485.1v2.2M804.7,495.5v2.2" stroke="#0072b2" stroke-width="1"/>
<circle cx="837.4" cy="490.2" r="5.0" fill="none" stroke="#0072b2" stroke-width="1.25"/><path d="M831.1,490.2h2.2M841.5,490.2h2.2M837.4,483.9v2.2M837.4,494.3v2.2" stroke="#0072b2" stroke-width="1"/>
<circle cx="841.5" cy="492.5" r="5.0" fill="none" stroke="#0072b2" stroke-width="1.25"/><path d="M835.2,492.5h2.2M845.6,492.5h2.2M841.5,486.2v2.2M841.5,496.6v2.2" stroke="#0072b2" stroke-width="1"/>
<circle cx="874.2" cy="491.4" r="5.0" fill="none" stroke="#0072b2" stroke-width="1.25"/><path d="M867.9,491.4h2.2M878.3,491.4h2.2M874.2,485.1v2.2M874.2,495.5v2.2" stroke="#0072b2" stroke-width="1"/>
<circle cx="878.7" cy="490.2" r="5.0" fill="none" stroke="#0072b2" stroke-width="1.25"/><path d="M872.4,490.2h2.2M882.8,490.2h2.2M878.7,483.9v2.2M878.7,494.3v2.2" stroke="#0072b2" stroke-width="1"/>
<circle cx="911.3" cy="485.0" r="5.0" fill="none" stroke="#0072b2" stroke-width="1.25"/><path d="M905.0,485.0h2.2M915.4,485.0h2.2M911.3,478.7v2.2M911.3,489.1v2.2" stroke="#0072b2" stroke-width="1"/>
<circle cx="916.7" cy="492.2" r="5.0" fill="none" stroke="#0072b2" stroke-width="1.25"/><path d="M910.4,492.2h2.2M920.8,492.2h2.2M916.7,485.9v2.2M916.7,496.3v2.2" stroke="#0072b2" stroke-width="1"/>
<circle cx="949.5" cy="491.3" r="5.0" fill="none" stroke="#0072b2" stroke-width="1.25"/><path d="M943.2,491.3h2.2M953.6,491.3h2.2M949.5,485.0v2.2M949.5,495.4v2.2" stroke="#0072b2" stroke-width="1"/>
<circle cx="953.7" cy="483.2" r="5.0" fill="none" stroke="#0072b2" stroke-width="1.25"/><path d="M947.4,483.2h2.2M957.8,483.2h2.2M953.7,476.9v2.2M953.7,487.3v2.2" stroke="#0072b2" stroke-width="1"/>
<circle cx="986.7" cy="492.4" r="5.0" fill="none" stroke="#0072b2" stroke-width="1.25"/><path d="M980.4,492.4h2.2M990.8,492.4h2.2M986.7,486.1v2.2M986.7,496.5v2.2" stroke="#0072b2" stroke-width="1"/>
<circle cx="95.5" cy="520.3" r="5.6" fill="#e51e10"/><path d="M88.9,520.3h13.2M95.5,513.7v13.2" stroke="#e51e10" stroke-width="1"/>
<circle cx="128.5" cy="520.3" r="5.6" fill="#e51e10"/><path d="M121.9,520.3h13.2M128.5,513.7v13.2" stroke="#e51e10" stroke-width="1"/>
<circle cx="170.5" cy="518.4" r="5.6" fill="#e51e10"/><path d="M163.9,518.4h13.2M170.5,511.8v13.2" stroke="#e51e10" stroke-width="1"/>
<circle cx="203.0" cy="520.3" r="5.6" fill="#e51e10"/><path d="M196.4,520.3h13.2M203.0,513.7v13.2" stroke="#e51e10" stroke-width="1"/>
<circle cx="207.0" cy="520.3" r="5.6" fill="#e51e10"/><path d="M200.4,520.3h13.2M207.0,513.7v13.2" stroke="#e51e10" stroke-width="1"/>
<circle cx="240.0" cy="520.3" r="5.6" fill="#e51e10"/><path d="M233.4,520.3h13.2M240.0,513.7v13.2" stroke="#e51e10" stroke-width="1"/>
<circle cx="244.5" cy="520.3" r="5.6" fill="#e51e10"/><path d="M237.9,520.3h13.2M244.5,513.7v13.2" stroke="#e51e10" stroke-width="1"/>
<circle cx="277.5" cy="520.3" r="5.6" fill="#e51e10"/><path d="M270.9,520.3h13.2M277.5,513.7v13.2" stroke="#e51e10" stroke-width="1"/>
<circle cx="282.0" cy="520.3" r="5.6" fill="#e51e10"/><path d="M275.4,520.3h13.2M282.0,513.7v13.2" stroke="#e51e10" stroke-width="1"/>
<circle cx="315.5" cy="520.3" r="5.6" fill="#e51e10"/><path d="M308.9,520.3h13.2M315.5,513.7v13.2" stroke="#e51e10" stroke-width="1"/>
<circle cx="319.5" cy="520.3" r="5.6" fill="#e51e10"/><path d="M312.9,520.3h13.2M319.5,513.7v13.2" stroke="#e51e10" stroke-width="1"/>
<circle cx="352.0" cy="520.3" r="5.6" fill="#e51e10"/><path d="M345.4,520.3h13.2M352.0,513.7v13.2" stroke="#e51e10" stroke-width="1"/>
<circle cx="356.5" cy="520.3" r="5.6" fill="#e51e10"/><path d="M349.9,520.3h13.2M356.5,513.7v13.2" stroke="#e51e10" stroke-width="1"/>
<circle cx="389.5" cy="520.3" r="5.6" fill="#e51e10"/><path d="M382.9,520.3h13.2M389.5,513.7v13.2" stroke="#e51e10" stroke-width="1"/>
<circle cx="394.0" cy="520.3" r="5.6" fill="#e51e10"/><path d="M387.4,520.3h13.2M394.0,513.7v13.2" stroke="#e51e10" stroke-width="1"/>
<circle cx="427.0" cy="520.3" r="5.6" fill="#e51e10"/><path d="M420.4,520.3h13.2M427.0,513.7v13.2" stroke="#e51e10" stroke-width="1"/>
<circle cx="431.5" cy="520.3" r="5.6" fill="#e51e10"/><path d="M424.9,520.3h13.2M431.5,513.7v13.2" stroke="#e51e10" stroke-width="1"/>
<circle cx="464.0" cy="520.3" r="5.6" fill="#e51e10"/><path d="M457.4,520.3h13.2M464.0,513.7v13.2" stroke="#e51e10" stroke-width="1"/>
<circle cx="468.5" cy="520.3" r="5.6" fill="#e51e10"/><path d="M461.9,520.3h13.2M468.5,513.7v13.2" stroke="#e51e10" stroke-width="1"/>
<circle cx="501.5" cy="520.3" r="5.6" fill="#e51e10"/><path d="M494.9,520.3h13.2M501.5,513.7v13.2" stroke="#e51e10" stroke-width="1"/>
<circle cx="505.5" cy="520.3" r="5.6" fill="#e51e10"/><path d="M498.9,520.3h13.2M505.5,513.7v13.2" stroke="#e51e10" stroke-width="1"/>
<circle cx="538.5" cy="520.3" r="5.6" fill="#e51e10"/><path d="M531.9,520.3h13.2M538.5,513.7v13.2" stroke="#e51e10" stroke-width="1"/>
<circle cx="543.0" cy="520.3" r="5.6" fill="#e51e10"/><path d="M536.4,520.3h13.2M543.0,513.7v13.2" stroke="#e51e10" stroke-width="1"/>
<circle cx="576.0" cy="520.3" r="5.6" fill="#e51e10"/><path d="M569.4,520.3h13.2M576.0,513.7v13.2" stroke="#e51e10" stroke-width="1"/>
<circle cx="580.5" cy="520.3" r="5.6" fill="#e51e10"/><path d="M573.9,520.3h13.2M580.5,513.7v13.2" stroke="#e51e10" stroke-width="1"/>
<circle cx="613.0" cy="520.3" r="5.6" fill="#e51e10"/><path d="M606.4,520.3h13.2M613.0,513.7v13.2" stroke="#e51e10" stroke-width="1"/>
<circle cx="617.5" cy="520.3" r="5.6" fill="#e51e10"/><path d="M610.9,520.3h13.2M617.5,513.7v13.2" stroke="#e51e10" stroke-width="1"/>
<circle cx="651.0" cy="520.3" r="5.6" fill="#e51e10"/><path d="M644.4,520.3h13.2M651.0,513.7v13.2" stroke="#e51e10" stroke-width="1"/>
<circle cx="655.5" cy="520.3" r="5.6" fill="#e51e10"/><path d="M648.9,520.3h13.2M655.5,513.7v13.2" stroke="#e51e10" stroke-width="1"/>
<circle cx="688.0" cy="520.3" r="5.6" fill="#e51e10"/><path d="M681.4,520.3h13.2M688.0,513.7v13.2" stroke="#e51e10" stroke-width="1"/>
<circle cx="692.5" cy="520.3" r="5.6" fill="#e51e10"/><path d="M685.9,520.3h13.2M692.5,513.7v13.2" stroke="#e51e10" stroke-width="1"/>
<circle cx="725.0" cy="520.3" r="5.6" fill="#e51e10"/><path d="M718.4,520.3h13.2M725.0,513.7v13.2" stroke="#e51e10" stroke-width="1"/>
<circle cx="729.5" cy="520.3" r="5.6" fill="#e51e10"/><path d="M722.9,520.3h13.2M729.5,513.7v13.2" stroke="#e51e10" stroke-width="1"/>
<circle cx="762.5" cy="520.3" r="5.6" fill="#e51e10"/><path d="M755.9,520.3h13.2M762.5,513.7v13.2" stroke="#e51e10" stroke-width="1"/>
<circle cx="766.5" cy="520.3" r="5.6" fill="#e51e10"/><path d="M759.9,520.3h13.2M766.5,513.7v13.2" stroke="#e51e10" stroke-width="1"/>
<circle cx="799.5" cy="520.3" r="5.6" fill="#e51e10"/><path d="M792.9,520.3h13.2M799.5,513.7v13.2" stroke="#e51e10" stroke-width="1"/>
<circle cx="804.0" cy="520.3" r="5.6" fill="#e51e10"/><path d="M797.4,520.3h13.2M804.0,513.7v13.2" stroke="#e51e10" stroke-width="1"/>
<circle cx="837.5" cy="520.3" r="5.6" fill="#e51e10"/><path d="M830.9,520.3h13.2M837.5,513.7v13.2" stroke="#e51e10" stroke-width="1"/>
<circle cx="842.0" cy="520.3" r="5.6" fill="#e51e10"/><path d="M835.4,520.3h13.2M842.0,513.7v13.2" stroke="#e51e10" stroke-width="1"/>
<circle cx="874.5" cy="520.3" r="5.6" fill="#e51e10"/><path d="M867.9,520.3h13.2M874.5,513.7v13.2" stroke="#e51e10" stroke-width="1"/>
<circle cx="878.5" cy="520.3" r="5.6" fill="#e51e10"/><path d="M871.9,520.3h13.2M878.5,513.7v13.2" stroke="#e51e10" stroke-width="1"/>
<circle cx="911.5" cy="520.3" r="5.6" fill="#e51e10"/><path d="M904.9,520.3h13.2M911.5,513.7v13.2" stroke="#e51e10" stroke-width="1"/>
<circle cx="916.0" cy="520.3" r="5.6" fill="#e51e10"/><path d="M909.4,520.3h13.2M916.0,513.7v13.2" stroke="#e51e10" stroke-width="1"/>
<circle cx="949.5" cy="520.3" r="5.6" fill="#e51e10"/><path d="M942.9,520.3h13.2M949.5,513.7v13.2" stroke="#e51e10" stroke-width="1"/>
<circle cx="953.5" cy="520.3" r="5.6" fill="#e51e10"/><path d="M946.9,520.3h13.2M953.5,513.7v13.2" stroke="#e51e10" stroke-width="1"/>
<circle cx="986.7" cy="520.3" r="5.6" fill="#e51e10"/><path d="M980.1,520.3h13.2M986.7,513.7v13.2" stroke="#e51e10" stroke-width="1"/>
<path d="M743.5,444.1L751.5,456.6L735.5,456.6Z" fill="none" stroke="#000" stroke-width="1.1"/>
<path d="M163.0,413.3h13.0M169.5,406.8v13.0" stroke="#9400d3" stroke-width="1" fill="none"/>
<rect x="163.5" y="418.5" width="12" height="12" fill="none" stroke="#e69f00" stroke-width="1"/>
<path d="M169.5,444.1L177.5,456.6L161.5,456.6Z" fill="none" stroke="#000" stroke-width="1.1"/>
<rect x="163.2" y="468.2" width="12.5" height="12.5" fill="#f0e442"/>
<rect x="94.5" y="74.5" width="895" height="448" fill="none" stroke="#000" stroke-width="1"/>
<text x="539.5" y="49" text-anchor="middle" xml:space="preserve" textLength="518.5" lengthAdjust="spacing">pi21 Jan 27  near/far ICMP/TCP ping and curl times [No msmt 1AM-2AM]</text>
<text x="81" y="526.0" text-anchor="end">0</text>
<text x="81" y="416.7" text-anchor="end">500</text>
<text x="81" y="307.5" text-anchor="end">1000</text>
<text x="81" y="198.2" text-anchor="end">1500</text>
<text x="81" y="88.9" text-anchor="end">2000</text>
<text x="92.3" y="545" text-anchor="middle">00:00</text>
<text x="166.9" y="545" text-anchor="middle">02:00</text>
<text x="241.5" y="545" text-anchor="middle">04:00</text>
<text x="316.1" y="545" text-anchor="middle">06:00</text>
<text x="390.6" y="545" text-anchor="middle">08:00</text>
<text x="465.2" y="545" text-anchor="middle">10:00</text>
<text x="539.8" y="545" text-anchor="middle">12:00</text>
<text x="614.4" y="545" text-anchor="middle">14:00</text>
<text x="689.0" y="545" text-anchor="middle">16:00</text>
<text x="763.5" y="545" text-anchor="middle">18:00</text>
<text x="838.1" y="545" text-anchor="middle">20:00</text>
<text x="912.7" y="545" text-anchor="middle">22:00</text>
<text x="987.3" y="545" text-anchor="middle">00:00</text>
<text x="539.6" y="572.6" text-anchor="middle" textLength="713" lengthAdjust="spacing">&lt;-START at 2AM Yday, right to 12AM Tday-&gt;, then wrap left to 1AM Tday&lt;- [ignore connecting lines]</text>
<text transform="translate(17,299) rotate(-90)" text-anchor="middle">msec</text>
<text x="116.5" y="95.7">near ICMP delays -Ypingresult- 24.164.211.181 hop# 4 1 ping/min---&gt;</text>
<text x="116.5" y="113.6">TCP ping delays -YTimetcpping- Top100Web---&gt;</text>
<text x="116.5" y="131.5">deep ICMP delays -YCustPingSiteTimes---&gt;</text>
<text x="116.5" y="149.3">curl target delay via www.google.com (max 4s allowed)</text>
<text x="116.5" y="167.2">google.com DNS query time via 172.24.1.1</text>
<text x="116.5" y="185.1">LastBoot: 2023-01-01 01:17:24</text>
<text x="116.5" y="203.0">at 450-&gt; <tspan class="b" dx="3.5">OFFLINE</tspan> -near ICMP+TCP ping fail [ignore 2AM]</text>
<text x="116.5" y="220.9">at 220-&gt; TCP ping failed while online [ignore 2AM]</text>
<text x="116.5" y="238.7">at 320-&gt; deep (customer) ICMP timeouts [ignore 2AM]</text>
<text x="111.5" y="256.6">start 500-&gt; <tspan class="b" dx="4">EXCESS ICMP ping timeouts</tspan><tspan dx="1.5"> ping rate at 6 pings/min</tspan></text>
<text x="152.0" y="274.5">#vertical tick represents ping timeouts in 1 min</text>
<text x="910.5" y="94.1" text-anchor="end">&quot;Ypingresult.txt&quot; using 1:2</text>
<text x="910.5" y="113.1" text-anchor="end">&quot;YTimetcpping.txt&quot; using 1:2</text>
<text x="910.5" y="132.2" text-anchor="end">&quot;YCustPingSiteTimes.txt&quot; using 1:2</text>
<text x="910.5" y="151.2" text-anchor="end">&quot;Yofflineresult.txt&quot; using 1:2</text>
<text x="910.5" y="170.3" text-anchor="end">&quot;Ytcpoff_record.txt&quot; using 1:2</text>
<text x="910.5" y="189.4" text-anchor="end">&quot;Ygooglecurltime.txt&quot; using 1:2</text>
<text x="910.5" y="208.4" text-anchor="end">&quot;Ygooglecurldnstime.txt&quot; using 1:2</text>
<text x="910.5" y="227.4" text-anchor="end">&quot;YCustPingTimeout.txt&quot; using 1:2</text>
<text x="910.5" y="246.5" text-anchor="end">&quot;YHPpingresult.txt&quot; using 1:2</text>
<line x1="923" y1="90.5" x2="970" y2="90.5" stroke="#9400d3" stroke-width="1"/>
<line x1="923" y1="109.5" x2="970" y2="109.5" stroke="#009e73" stroke-width="1"/>
<line x1="923" y1="128.5" x2="970" y2="128.5" stroke="#56b4e9" stroke-width="1"/>
<rect x="940.5" y="141.4" width="12" height="12" fill="none" stroke="#e69f00" stroke-width="1"/>
<rect x="940.3" y="160.2" width="12.5" height="12.5" fill="#f0e442"/>
<circle cx="946.5" cy="185.6" r="5.0" fill="none" stroke="#0072b2" stroke-width="1.25"/><path d="M940.2,185.6h2.2M950.6,185.6h2.2M946.5,179.2v2.2M946.5,189.7v2.2" stroke="#0072b2" stroke-width="1"/>
<circle cx="946.5" cy="204.6" r="5.6" fill="#e51e10"/><path d="M939.9,204.6h13.2M946.5,198.0v13.2" stroke="#e51e10" stroke-width="1"/>
<path d="M946.5,217.3L954.5,229.8L938.5,229.8Z" fill="none" stroke="#000" stroke-width="1.1"/>
<path d="M940.0,242.7h13.0M946.5,236.2v13.0" stroke="#9400d3" stroke-width="1" fill="none"/>
<text x="179" y="410.0">(500)<tspan dx="1.5">Hyperping Timeouts ----&gt;</tspan></text>
<text x="179" y="427.5">(450)<tspan dx="1.5">OFFLINE STATE -----&gt;</tspan></text>
<text x="179" y="445.0">(400)<tspan dx="1.5">Reboot/powercycle? ----&gt;</tspan></text>
<text x="179" y="462.5">(320)<tspan dx="1.5">Deep ICMP Timeouts ----&gt;</tspan></text>
<text x="179" y="480.0">(220)<tspan dx="1.5">TCP ping Timeouts -----&gt;</tspan></text>
</svg></body></html>
